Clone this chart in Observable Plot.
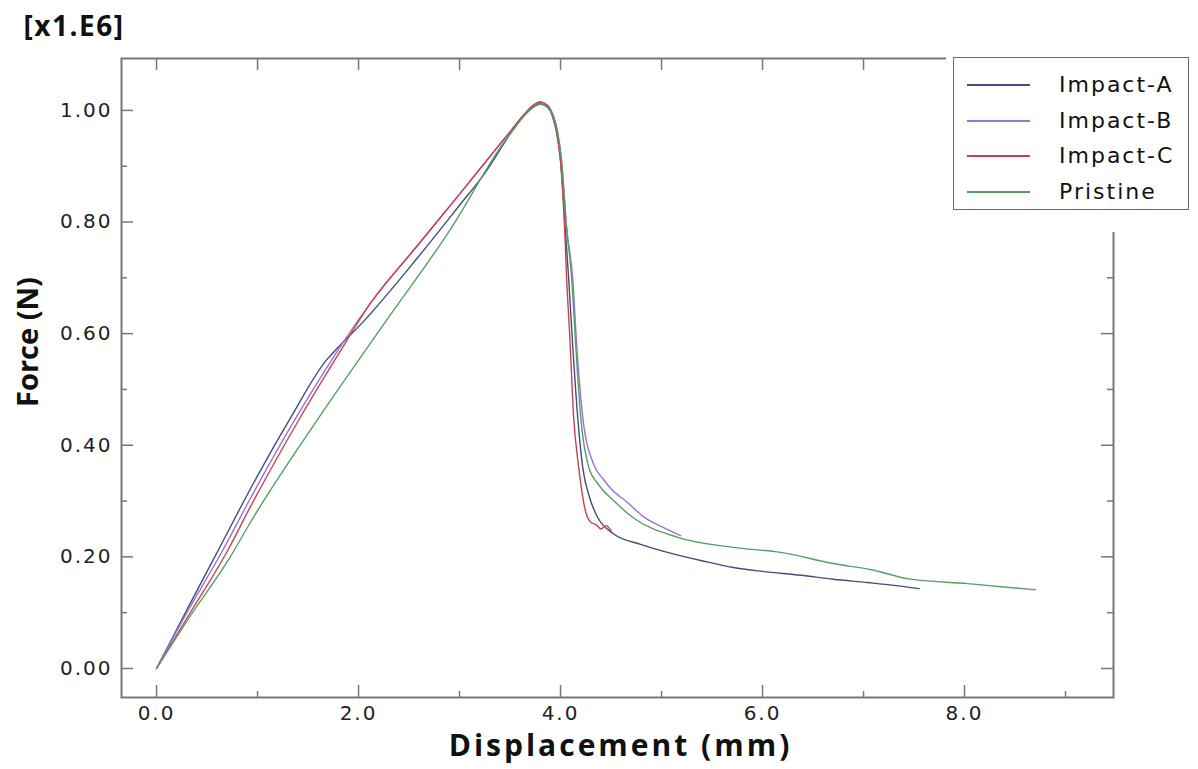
<!DOCTYPE html>
<html>
<head>
<meta charset="utf-8">
<script src="https://cdn.jsdelivr.net/npm/d3@7"></script>
<script src="https://cdn.jsdelivr.net/npm/@observablehq/plot@0.6"></script>
<style>
  html, body { margin: 0; padding: 0; background: #fff; }
  #wrap { position: relative; width: 1198px; height: 769px; }
  #legend { position: absolute; left: 946px; top: 50px; width: 252px; height: 182px; background: #fff; }
  #legend .box { position: absolute; left: 7px; top: 7px; width: 236px; height: 153px; border: 1.5px solid #6a6a6a; box-sizing: border-box; }
  #legend .swatch { position: absolute; width: 63px; height: 0; border-top: 2px solid; }
  #legend .lab { position: absolute; font-family: "DejaVu Sans", Verdana, sans-serif; font-size: 22px; letter-spacing: 2px; color: #111; white-space: nowrap; line-height: 30px; }
</style>
</head>
<body>
<div id="wrap"></div>
<script>
// ---- data (displacement in mm, force in x1.E6 N) ----
const seriesNames = ["Impact-A", "Impact-B", "Impact-C", "Pristine"];
const seriesColors = ["#3e4f7d", "#9a72d4", "#c8434f", "#55a064"];

const impactA = [
  [0,0],[0.3,0.105],[0.62,0.215],[0.93,0.322],[1.33,0.45],[1.68,0.552],[1.76,0.568],
  [2.05,0.622],[2.58,0.735],[3.0,0.83],[3.24,0.885],[3.53,0.965],[3.65,0.993],[3.72,1.005],
  [3.8,1.012],[3.87,1.006],[3.92,0.99],[3.96,0.962],[4.0,0.91],[4.05,0.78],[4.08,0.7],
  [4.12,0.58],[4.17,0.45],[4.22,0.36],[4.29,0.305],[4.37,0.27],[4.52,0.242],[4.8,0.222],
  [5.06,0.208],[5.4,0.193],[5.71,0.181],[6.0,0.174],[6.38,0.167],[6.7,0.16],[7.04,0.154],
  [7.3,0.149],[7.55,0.143]
];
const impactB = [
  [0,0],[0.3,0.1],[0.65,0.21],[0.93,0.305],[1.39,0.452],[1.77,0.563],[2.12,0.655],[2.58,0.757],
  [3.0,0.85],[3.5,0.962],[3.65,0.995],[3.72,1.008],[3.8,1.015],[3.87,1.009],[3.93,0.99],
  [3.97,0.962],[4.01,0.91],[4.06,0.79],[4.12,0.7],[4.16,0.58],[4.22,0.45],[4.33,0.365],
  [4.42,0.34],[4.5,0.322],[4.66,0.298],[4.82,0.272],[5.0,0.254],[5.19,0.238]
];
const impactC = [
  [0,0],[0.3,0.09],[0.7,0.21],[0.93,0.29],[1.43,0.452],[1.79,0.56],[2.12,0.655],[2.58,0.757],
  [3.0,0.85],[3.5,0.962],[3.65,0.995],[3.72,1.008],[3.8,1.015],[3.87,1.009],[3.92,0.99],
  [3.96,0.962],[4.0,0.91],[4.04,0.79],[4.06,0.7],[4.09,0.6],[4.13,0.45],[4.18,0.36],
  [4.25,0.28],[4.3,0.262],[4.35,0.258],[4.4,0.25],[4.45,0.256],[4.5,0.247]
];
const pristine = [
  [0,0],[0.3,0.085],[0.73,0.2],[0.93,0.262],[1.59,0.445],[2.25,0.617],[2.91,0.787],[3.44,0.943],
  [3.53,0.965],[3.65,0.992],[3.72,1.004],[3.8,1.011],[3.87,1.005],[3.93,0.989],[3.97,0.962],
  [4.01,0.91],[4.06,0.79],[4.11,0.7],[4.15,0.58],[4.2,0.45],[4.28,0.36],[4.37,0.331],
  [4.53,0.3],[4.72,0.27],[5.16,0.235],[5.71,0.217],[6.18,0.208],[6.7,0.188],[7.1,0.176],
  [7.43,0.161],[8.03,0.152],[8.7,0.141]
];

const xTickLabels = [0, 2, 4, 6, 8];
const xMinorTicks = [1, 3, 5, 7, 9];
const xTopTicks = [0, 1, 2, 3, 4, 5, 6, 7, 8, 9];
const yTickLabels = [0, 0.2, 0.4, 0.6, 0.8, 1.0];
const yMinorTicks = [0.1, 0.3, 0.5, 0.7, 0.9];

// ---- build table ----
const seriesData = [impactA, impactB, impactC, pristine];
const table = [];
seriesData.forEach((arr, i) => arr.forEach(([x, y]) => table.push({series: seriesNames[i], x, y})));

const W = 1198, H = 769, mL = 121, mR = 85, mT = 58, mB = 72;
const pw = W - mL - mR, ph = H - mT - mB;
const frameColor = "#777";

const chart = Plot.plot({
  width: W, height: H,
  marginLeft: mL, marginRight: mR, marginTop: mT, marginBottom: mB,
  style: {background: "#fff", color: "#222"},
  x: {domain: [-0.347, 9.475]},
  y: {domain: [-0.052, 1.093]},
  color: {domain: seriesNames, range: seriesColors},
  marks: [
    Plot.frame({stroke: frameColor, strokeWidth: 2}),
    Plot.ruleX(xTickLabels, {stroke: frameColor, strokeWidth: 1.5, insetTop: ph - 12}),
    Plot.ruleX(xMinorTicks, {stroke: frameColor, strokeWidth: 1.5, insetTop: ph - 6}),
    Plot.ruleX(xTopTicks, {stroke: frameColor, strokeWidth: 1.5, insetBottom: ph - 12}),
    Plot.ruleY(yTickLabels, {stroke: frameColor, strokeWidth: 1.5, insetRight: pw - 12}),
    Plot.ruleY(yMinorTicks, {stroke: frameColor, strokeWidth: 1.5, insetRight: pw - 6}),
    Plot.ruleY(yTickLabels, {stroke: frameColor, strokeWidth: 1.5, insetLeft: pw - 12}),
    Plot.ruleY(yMinorTicks, {stroke: frameColor, strokeWidth: 1.5, insetLeft: pw - 6}),
    Plot.axisX(xTickLabels, {anchor: "bottom", tickSize: 0, tickPadding: 8, tickFormat: d => d.toFixed(1),
      fontSize: 20, fontFamily: "DejaVu Sans", fill: "#222", label: null}),
    Plot.axisY(yTickLabels, {anchor: "left", tickSize: 0, tickPadding: 9, tickFormat: d => d.toFixed(2),
      fontSize: 20, fontFamily: "DejaVu Sans", fill: "#222", label: null}),
    Plot.line(table, {x: "x", y: "y", z: "series", stroke: "series", strokeWidth: 1.4, curve: "monotone-x"}),
    Plot.text(["[x1.E6]"], {frameAnchor: "top-left", dx: -98, dy: -31, textAnchor: "start", lineAnchor: "middle",
      fontSize: 28, fontWeight: "bold", fontFamily: "Open Sans", fill: "#111"}),
    Plot.text(["Displacement (mm)"], {frameAnchor: "bottom", dx: 3, dy: 49, textAnchor: "middle", lineAnchor: "middle",
      fontSize: 30, fontWeight: "bold", fontFamily: "Open Sans", fill: "#111"}),
    Plot.text(["Force (N)"], {frameAnchor: "left", dx: -93, dy: -36, rotate: -90, textAnchor: "middle", lineAnchor: "middle",
      fontSize: 29, fontWeight: "bold", fontFamily: "Open Sans", fill: "#111"})
  ]
});

d3.select(chart).selectAll('g[aria-label$="tick label"] text').style("letter-spacing", "2px");
d3.select(chart).selectAll('g[aria-label="text"]').filter((d, i, n) => n[i].textContent === "[x1.E6]").style("letter-spacing", "1.5px");
d3.select(chart).selectAll('g[aria-label="text"]').filter((d, i, n) => n[i].textContent === "Displacement (mm)").style("letter-spacing", "3px");

const wrap = document.getElementById("wrap");
wrap.appendChild(chart);

// legend (HTML overlay, built from the same series arrays)
const legend = document.createElement("div");
legend.id = "legend";
const box = document.createElement("div");
box.className = "box";
legend.appendChild(box);
const rowCenters = [85, 120.5, 156, 191.5];
seriesNames.forEach((name, i) => {
  const cy = rowCenters[i] - 50;
  const sw = document.createElement("div");
  sw.className = "swatch";
  sw.style.top = (cy - 1) + "px";
  sw.style.left = (967 - 946) + "px";
  sw.style.borderTopColor = seriesColors[i];
  legend.appendChild(sw);
  const lab = document.createElement("div");
  lab.className = "lab";
  lab.style.top = (cy - 15) + "px";
  lab.style.left = (1059 - 946) + "px";
  lab.textContent = name;
  legend.appendChild(lab);
});
wrap.appendChild(legend);
</script>
</body>
</html>
